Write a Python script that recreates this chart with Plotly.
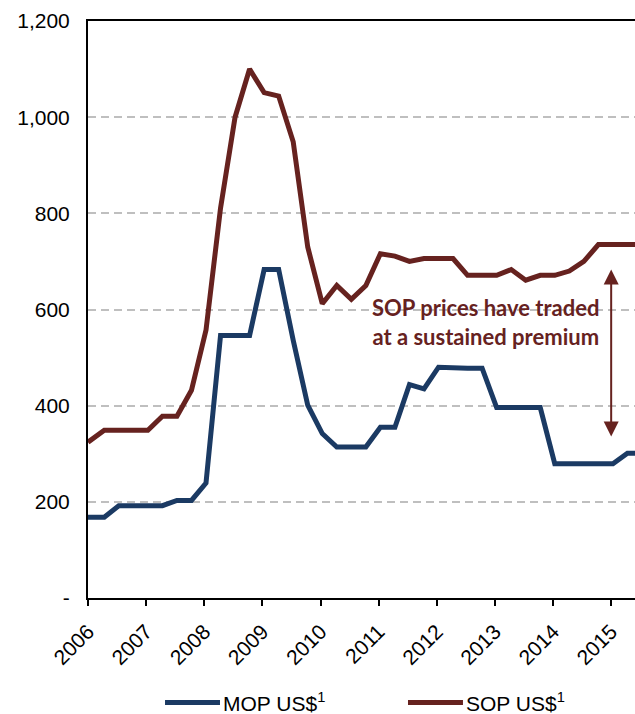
import plotly.graph_objects as go

# Quarterly observations, 2006 Q1 .. 2015 Q3
periods = [f"{y}Q{q}" for y in range(2006, 2016) for q in range(1, 5)][:39]
mop = [168, 168, 192, 192, 192, 192, 203, 203, 239, 546,
       546, 546, 683, 683, 536, 401, 342, 314, 314, 314,
       355, 355, 444, 435, 480, 478, 478, 478, 396, 396,
       396, 396, 279, 279, 279, 279, 279, 301, 301]
sop = [324, 349, 349, 349, 349, 378, 378, 432, 557, 811,
       1000, 1100, 1051, 1044, 949, 730, 612, 650, 621, 650,
       716, 711, 700, 706, 706, 706, 671, 671, 671, 683,
       661, 671, 671, 680, 700, 735, 735, 735, 735]
year_ticks = list(range(2006, 2016))
y_ticks = [0, 200, 400, 600, 800, 1000, 1200]
y_labels = ["-", "200", "400", "600", "800", "1,000", "1,200"]
series_names = ["MOP US$<sup>1</sup>", "SOP US$<sup>1</sup>"]
note_text = "SOP prices have traded<br>at a sustained premium"
arrow_top, arrow_bottom, arrow_x = 683, 333, 2015.0

def to_year(p):
    y, q = p.split("Q")
    return int(y) + (int(q) - 1) * 0.25 + 0.03

x = [to_year(p) for p in periods]
x[0] = 2006.0

MOP_C = "#1B3A63"
SOP_C = "#66221F"
FONT = "Arial, Liberation Sans, sans-serif"

fig = go.Figure()
fig.add_trace(go.Scatter(x=x, y=mop, mode="lines", name=series_names[0],
                         line=dict(color=MOP_C, width=5), showlegend=False))
fig.add_trace(go.Scatter(x=x, y=sop, mode="lines", name=series_names[1],
                         line=dict(color=SOP_C, width=5), showlegend=False))

# double-headed arrow
fig.add_annotation(x=arrow_x, y=arrow_top, ax=arrow_x, ay=arrow_bottom,
                   xref="x", yref="y", axref="x", ayref="y", text="",
                   showarrow=True, arrowside="end+start", arrowhead=2,
                   startarrowhead=2, arrowsize=1.5, startarrowsize=1.5,
                   arrowwidth=2, arrowcolor=SOP_C)
fig.add_annotation(x=2012.83, y=573, xref="x", yref="y", text=note_text,
                   showarrow=False, align="center",
                   font=dict(family="Lato, Carlito, sans-serif", size=22,
                             color=SOP_C, weight="bold"))

# custom legend
leg_y = -0.181
for (x0, x1, col, name) in [(0.1408, 0.2413, MOP_C, series_names[0]),
                            (0.5850, 0.6855, SOP_C, series_names[1])]:
    fig.add_shape(type="line", xref="paper", yref="paper", x0=x0, x1=x1,
                  y0=leg_y, y1=leg_y, line=dict(color=col, width=5))
    fig.add_annotation(xref="paper", yref="paper", x=x1 + 0.002, y=leg_y,
                       xanchor="left", yanchor="middle", text=name,
                       showarrow=False, font=dict(family=FONT, size=21, color="black"))

fig.update_layout(
    width=635, height=714,
    margin=dict(l=88, r=0, t=21, b=116, autoexpand=False),
    paper_bgcolor="white", plot_bgcolor="white",
    font=dict(family=FONT, size=21, color="black"),
    showlegend=False,
)
fig.update_xaxes(range=[2006, 2015.41], tickvals=year_ticks, automargin=False,
                 ticktext=[str(v) for v in year_ticks], tickangle=-45,
                 showgrid=False, zeroline=False, showline=True, mirror=True,
                 linecolor="black", linewidth=2, ticks="outside", ticklen=6,
                 tickwidth=2, tickcolor="black", tickfont=dict(size=21),
                 ticklabelstandoff=5)
fig.update_yaxes(range=[0, 1200], tickvals=y_ticks, ticktext=y_labels,
                 automargin=False,
                 showgrid=True, gridcolor="#BFBFBF", gridwidth=1.5,
                 griddash="8px,5px", zeroline=False, showline=True,
                 linecolor="black", linewidth=2, ticks="", ticklabelstandoff=12,
                 tickfont=dict(size=21))

fig.write_html("out.html", config={"displayModeBar": False},
               post_script="document.body.style.margin='0';document.body.style.padding='0';")
